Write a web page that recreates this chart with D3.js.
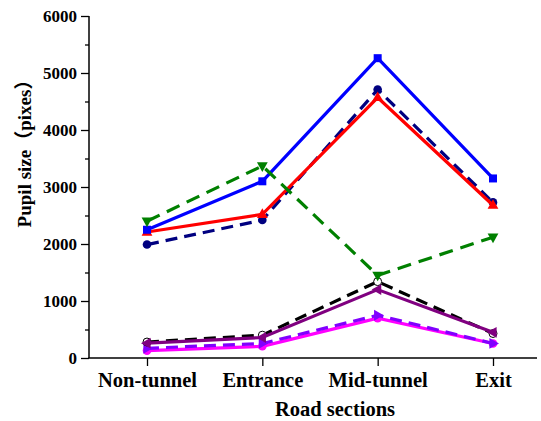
<!DOCTYPE html>
<html><head><meta charset="utf-8">
<script src="https://cdn.jsdelivr.net/npm/d3@7"></script>
<style>body{margin:0;background:#fff}svg{display:block}</style>
</head><body>
<svg id="c" width="541" height="421"></svg>
<script>
const categories = ["Non-tunnel", "Entrance", "Mid-tunnel", "Exit"];
const yTicks = [0, 1000, 2000, 3000, 4000, 5000, 6000];
const blueVals = [2250, 3100, 5260, 3150];
const redVals = [2210, 2520, 4570, 2680];
const navyVals = [1990, 2420, 4710, 2730];
const greenVals = [2400, 3370, 1450, 2120];
const blackVals = [280, 400, 1340, 430];
const purpleVals = [260, 360, 1200, 450];
const violetVals = [170, 255, 750, 255];
const magentaVals = [130, 205, 700, 255];

const series = [
  {v: magentaVals, color: "#ff00ff", dash: null, sym: "circle", fill: true},
  {v: violetVals, color: "#8000ff", dash: "12,7", sym: "right", fill: true},
  {v: blackVals, color: "#000000", dash: "12,7", sym: "circle", fill: false},
  {v: purpleVals, color: "#800080", dash: null, sym: "left", fill: true},
  {v: navyVals, color: "#000080", dash: "12,7", sym: "circle", fill: true},
  {v: redVals, color: "#ff0000", dash: null, sym: "up", fill: true},
  {v: blueVals, color: "#0000ff", dash: null, sym: "square", fill: true},
  {v: greenVals, color: "#008000", dash: "14,8", sym: "down", fill: true}
];

const svg = d3.select("#c");
const x = d3.scalePoint().domain(categories).range([147, 493]);
const y = d3.scaleLinear().domain([0, 6000]).range([358, 16]);
const font = "'Liberation Serif','Times New Roman','Noto Sans CJK SC',serif";

// axes
const gy = svg.append("g").attr("transform", "translate(89,0)")
  .call(d3.axisLeft(y).tickValues(yTicks).tickSize(8).tickPadding(4).tickFormat(d3.format("d")));
gy.select(".domain").remove();
gy.selectAll("line").attr("stroke", "#000").attr("stroke-width", 1.3);
gy.selectAll("text").attr("font-family", font).attr("font-weight", "bold").attr("font-size", 17).attr("fill", "#000");
const gyMinor = svg.append("g").attr("transform", "translate(89,0)")
  .call(d3.axisLeft(y).tickValues(d3.range(500, 6000, 1000)).tickSize(4).tickFormat(""));
gyMinor.select(".domain").remove();
gyMinor.selectAll("line").attr("stroke", "#000").attr("stroke-width", 1.3);
svg.append("line").attr("x1", 89).attr("x2", 89).attr("y1", y(6000)).attr("y2", y(0))
  .attr("stroke", "#000").attr("stroke-width", 1.5);

const gx = svg.append("g").attr("transform", "translate(0,358)")
  .call(d3.axisBottom(x).tickSize(8).tickPadding(6));
gx.select(".domain").remove();
gx.selectAll("line").attr("stroke", "#000").attr("stroke-width", 1.3);
gx.selectAll("text").attr("font-family", font).attr("font-weight", "bold").attr("font-size", 20.5).attr("fill", "#000");
svg.append("line").attr("x1", 88.3).attr("x2", 537).attr("y1", 358).attr("y2", 358)
  .attr("stroke", "#000").attr("stroke-width", 1.5);

svg.append("text").attr("x", 335).attr("y", 416).attr("text-anchor", "middle")
  .attr("font-family", font).attr("font-weight", "bold").attr("font-size", 20.5).text("Road sections");
svg.append("text").attr("transform", "translate(31,149) rotate(-90)").attr("text-anchor", "middle")
  .attr("font-family", font).attr("font-weight", "bold").attr("font-size", 19).text("Pupil size（pixes）");

// lines
const line = d3.line().x((d, i) => x(categories[i])).y(d => y(d));
const tri = (dir, s) => {
  const pts = {up: [[0,-s],[s*0.9,s*0.6],[-s*0.9,s*0.6]], down: [[0,s],[s*0.9,-s*0.6],[-s*0.9,-s*0.6]],
    left: [[-s,0],[s*0.6,-s*0.9],[s*0.6,s*0.9]], right: [[s,0],[-s*0.6,-s*0.9],[-s*0.6,s*0.9]]}[dir];
  return "M" + pts.map(p => p.join(",")).join("L") + "Z";
};
series.forEach(s => {
  svg.append("path").attr("d", line(s.v)).attr("fill", "none").attr("stroke", s.color)
    .attr("stroke-width", 3.2).attr("stroke-dasharray", s.dash);
  const g = svg.append("g");
  s.v.forEach((v, i) => {
    const cx = x(categories[i]), cy = y(v);
    if (s.sym === "circle") {
      g.append("circle").attr("cx", cx).attr("cy", cy).attr("r", s.fill ? 4.3 : 4)
        .attr("fill", s.fill ? s.color : "#fff").attr("stroke", s.color).attr("stroke-width", s.fill ? 0 : 1);
    } else if (s.sym === "square") {
      g.append("rect").attr("x", cx - 4).attr("y", cy - 4).attr("width", 8).attr("height", 8).attr("fill", s.color);
    } else {
      g.append("path").attr("transform", `translate(${cx},${cy})`).attr("d", tri(s.sym, 6)).attr("fill", s.color);
    }
  });
});
</script>
</body></html>
